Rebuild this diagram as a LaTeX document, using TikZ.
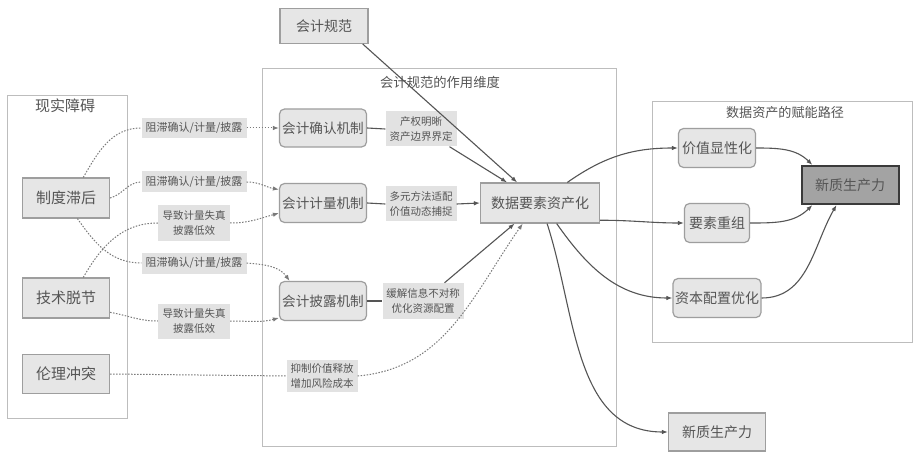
\documentclass[tikz,border=0pt]{standalone}
\usepackage{fontspec}
\setmainfont{Noto Sans CJK SC}
\usetikzlibrary{arrows.meta}
\definecolor{textgray}{HTML}{555555}
\definecolor{groupline}{HTML}{BDBDBD}
\definecolor{boxline}{HTML}{9E9E9E}
\definecolor{boxfill}{HTML}{E6E6E6}
\definecolor{labelfill}{HTML}{E2E2E2}
\definecolor{darkfill}{HTML}{A3A3A3}
\definecolor{darkline}{HTML}{3A3A3A}
\definecolor{edgeline}{HTML}{555555}
\definecolor{dotline}{HTML}{7A7A7A}

\begin{document}
\begin{tikzpicture}[x=1pt,y=1pt]
    \useasboundingbox (0,0) rectangle (915,453);

    % 分组框与标题
    \tikzstyle{group_style} = [draw=groupline, fill=white, line width=1pt, inner sep=0pt]
    \tikzstyle{title_style} = [text=textgray, font=\fontsize{13.3}{15}\selectfont]

    % 节点样式
    \tikzstyle{box_style} = [draw=boxline, fill=boxfill, line width=1.2pt, text=textgray, inner sep=0pt, font=\fontsize{14}{16}\selectfont]
    \tikzstyle{round_style} = [box_style, rounded corners=5pt]

    % 连线上的说明文字
    \tikzstyle{label_style} = [fill=labelfill, text=textgray, align=center, inner sep=0pt, font=\fontsize{10.5}{15}\selectfont]

    % 连线样式
    \tikzstyle{dot_edge} = [-{Latex[length=6pt,width=4.5pt]}, draw=dotline, line width=1pt, dash pattern=on 1.5pt off 1.5pt]
    \tikzstyle{solid_edge} = [-{Latex[length=6pt,width=4.5pt]}, draw=edgeline, line width=1.1pt]
    \tikzstyle{plain_edge} = [-, draw=edgeline, line width=1.1pt]

    % 三个分组
    \node[group_style, minimum width=120, minimum height=322] (obstacle) at (67,196) {};
    \node[group_style, minimum width=354, minimum height=377] (dimension) at (439,195.5) {};
    \node[group_style, minimum width=260, minimum height=240] (pathway) at (782,231) {};
    \node[title_style, font=\fontsize{15}{17}\selectfont] (t_obstacle) at (65,347) {现实障碍};
    \node[title_style] (t_dimension) at (440,371) {会计规范的作用维度};
    \node[title_style, font=\fontsize{13.1}{15}\selectfont] (t_pathway) at (785,340) {数据资产的赋能路径};

    % 现实障碍
    \node[box_style, minimum width=87, minimum height=40, font=\fontsize{15}{17}\selectfont] (zhidu) at (66,255) {制度滞后};
    \node[box_style, minimum width=87, minimum height=40, font=\fontsize{15}{17}\selectfont] (jishu) at (66,155) {技术脱节};
    \node[box_style, minimum width=87, minimum height=39, font=\fontsize{15}{17}\selectfont] (lunli) at (66,79) {伦理冲突};

    % 会计规范与三个机制
    \node[box_style, minimum width=88, minimum height=35] (guifan) at (324,427) {会计规范};
    \node[round_style, minimum width=87, minimum height=38, font=\fontsize{13.6}{16}\selectfont] (queren) at (323,325) {会计确认机制};
    \node[round_style, minimum width=87, minimum height=39, font=\fontsize{13.6}{16}\selectfont] (jiliang) at (323,250) {会计计量机制};
    \node[round_style, minimum width=87, minimum height=39, font=\fontsize{13.6}{16}\selectfont] (pilu) at (323,152) {会计披露机制};

    \node[label_style, minimum width=71, minimum height=35] (la) at (421,324) {产权明晰\\资产边界界定};
    \node[label_style, minimum width=71, minimum height=35] (lb) at (421,249) {多元方法适配\\价值动态捕捉};
    \node[label_style, minimum width=81, minimum height=36] (lc) at (423,152) {缓解信息不对称\\优化资源配置};
    \node[label_style, minimum width=71, minimum height=32] (ld) at (322,77) {抑制价值释放\\增加风险成本};

    \node[box_style, minimum width=119, minimum height=40] (zichan) at (540,250) {数据要素资产化};
    \node[box_style, minimum width=97, minimum height=38] (xinzhi2) at (717,21) {新质生产力};

    % 赋能路径
    \node[round_style, minimum width=77, minimum height=39] (jiazhi) at (717,305) {价值显性化};
    \node[round_style, minimum width=65, minimum height=39] (chongzu) at (717,230) {要素重组};
    \node[round_style, minimum width=88, minimum height=39] (peizhi) at (717,155) {资本配置优化};
    \node[box_style, fill=darkfill, draw=darkline, line width=2pt, minimum width=97, minimum height=38] (xinzhi) at (850,268) {新质生产力};

    % 障碍说明
    \node[label_style, minimum width=105, minimum height=20, font=\fontsize{11}{13}\selectfont] (z1) at (194,325) {阻滞确认/计量/披露};
    \node[label_style, minimum width=105, minimum height=21, font=\fontsize{11}{13}\selectfont] (z2) at (194,271) {阻滞确认/计量/披露};
    \node[label_style, minimum width=72, minimum height=36] (d1) at (194,230) {导致计量失真\\披露低效};
    \node[label_style, minimum width=105, minimum height=21, font=\fontsize{11}{13}\selectfont] (z3) at (194,190) {阻滞确认/计量/披露};
    \node[label_style, minimum width=72, minimum height=35] (d2) at (194,132) {导致计量失真\\披露低效};

    % 障碍到机制（虚线）
    \draw[dot_edge, -] (zhidu.50) to[out=60, in=180] (z1.west);
    \draw[dot_edge] (z1.east) -- (queren.west);
    \draw[dot_edge, -] (zhidu.east) to[out=15, in=180] (z2.west);
    \draw[dot_edge] (z2.east) to[out=0, in=170] (jiliang.163);
    \draw[dot_edge, -] (zhidu.-61) to[out=-55, in=180] (z3.west);
    \draw[dot_edge] (z3.east) to[out=-5, in=125] (pilu.149);
    \draw[dot_edge, -] (jishu.50) to[out=60, in=180] (d1.west);
    \draw[dot_edge] (d1.east) to[out=0, in=195] (jiliang.193);
    \draw[dot_edge, -] (jishu.-18) to[out=-10, in=180] (d2.west);
    \draw[dot_edge] (d2.east) to[out=0, in=195] (pilu.201);
    \draw[dot_edge, -] (lunli.east) -- (ld.west);
    \draw[dot_edge] (ld.east) to[out=5, in=235] (zichan.-130);

    % 机制到数据要素资产化
    \draw[plain_edge] (queren.east) -- (la.west);
    \draw[plain_edge] (jiliang.east) -- (lb.west);
    \draw[plain_edge] (pilu.east) -- (lc.west);
    \draw[solid_edge] (la) -- (zichan.148);
    \draw[solid_edge] (guifan.-25) -- (zichan.138);
    \draw[solid_edge] (lb.east) -- (zichan.west);
    \draw[solid_edge] (lc) -- (zichan.-141);

    % 赋能路径
    \draw[solid_edge] (zichan.37) to[out=35, in=180] (jiazhi.west);
    \draw[solid_edge] (zichan.-16) to[out=0, in=180] (chongzu.west);
    \draw[solid_edge] (zichan.-51) to[out=-55, in=180] (peizhi.west);
    \draw[solid_edge] (zichan.-71) to[out=-72, in=180] (xinzhi2.west);
    \draw[solid_edge] (jiazhi.east) to[out=0, in=135] (xinzhi.152);
    \draw[solid_edge] (chongzu.east) to[out=0, in=225] (xinzhi.-152);
    \draw[solid_edge] (peizhi.east) to[out=0, in=240] (xinzhi.-124);

\end{tikzpicture}
\end{document}
